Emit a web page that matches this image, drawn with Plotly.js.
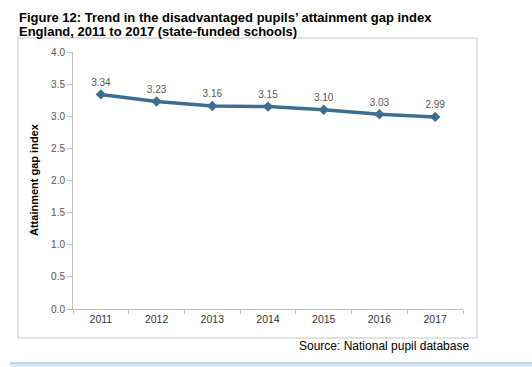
<!DOCTYPE html>
<html>
<head>
<meta charset="utf-8">
<script src="https://cdn.plot.ly/plotly-3.0.1.min.js"></script>
<style>html,body{margin:0;padding:0;background:#fff;}#chart{width:532px;height:367px;}</style>
</head>
<body>
<div id="chart"></div>
<script>
const years = ["2011", "2012", "2013", "2014", "2015", "2016", "2017"];
const gapIndex = [3.34, 3.23, 3.16, 3.15, 3.10, 3.03, 2.99];
const gapLabels = ["3.34", "3.23", "3.16", "3.15", "3.10", "3.03", "2.99"];
const yTicks = [0, 0.5, 1, 1.5, 2, 2.5, 3, 3.5, 4];
const yTickText = ["0.0", "0.5", "1.0", "1.5", "2.0", "2.5", "3.0", "3.5", "4.0"];
const titleLines = [
  "Figure 12: Trend in the disadvantaged pupils’ attainment gap index",
  "England, 2011 to 2017 (state-funded schools)"
];

const trace = {
  x: years, y: gapIndex, text: gapLabels,
  type: "scatter", mode: "lines+markers+text",
  textposition: "top center",
  textfont: {family: "Liberation Sans, Arial, sans-serif", size: 10, color: "#595959"},
  line: {color: "#3e6e8e", width: 3.5},
  marker: {symbol: "diamond", size: 8, color: "#3e6e8e"},
  cliponaxis: false, hoverinfo: "skip"
};

const L = 73, R = 463, T = 52, B = 309;
const px = v => (v - L) / (R - L);
const py = v => (B - v) / (B - T);

const layout = {
  width: 532, height: 367,
  margin: {l: L, r: 532 - R, t: T, b: 367 - B, pad: 0},
  paper_bgcolor: "#ffffff", plot_bgcolor: "#ffffff",
  showlegend: false,
  font: {family: "Liberation Sans, Arial, sans-serif", color: "#333"},
  xaxis: {
    type: "category", range: [-0.5, 6.5],
    showline: true, linecolor: "#bfbfbf", linewidth: 1,
    ticks: "outside", tickson: "boundaries", ticklen: 4, tickcolor: "#bfbfbf",
    showgrid: false, zeroline: false,
    tickfont: {size: 10.5, color: "#333"}
  },
  yaxis: {
    range: [0, 4], tickvals: yTicks, ticktext: yTickText,
    showline: true, linecolor: "#bfbfbf", linewidth: 1,
    ticks: "outside", ticklen: 5, tickcolor: "#bfbfbf",
    showgrid: false, zeroline: false,
    tickfont: {size: 10, color: "#555"}
  },
  annotations: [
    {text: "<b>" + titleLines[0] + "</b>",
     xref: "paper", yref: "paper", x: px(17), y: py(17), showarrow: false,
     xanchor: "left", yanchor: "middle", align: "left",
     font: {size: 13, color: "#000"}},
    {text: "<b>" + titleLines[1] + "</b>",
     xref: "paper", yref: "paper", x: px(17), y: py(31), showarrow: false,
     xanchor: "left", yanchor: "middle", align: "left",
     font: {size: 13, color: "#000"}},
    {text: "<b>Attainment gap index</b>", xref: "paper", yref: "paper",
     x: px(34), y: py(180), textangle: -90, showarrow: false,
     xanchor: "center", yanchor: "middle",
     font: {size: 11, color: "#000"}},
    {text: "Source: National pupil database", xref: "paper", yref: "paper",
     x: px(471), y: py(346), showarrow: false, xanchor: "right", yanchor: "middle",
     font: {size: 12, color: "#000"}}
  ],
  shapes: [
    {type: "rect", xref: "paper", yref: "paper",
     x0: px(18), x1: px(477), y0: py(338), y1: py(38),
     line: {color: "#d9d9d9", width: 1.5}, fillcolor: "rgba(0,0,0,0)", layer: "below"},
    {type: "rect", xref: "paper", yref: "paper",
     x0: px(10), x1: px(545), y0: py(363), y1: py(380),
     line: {width: 0}, fillcolor: "#deebf7", layer: "below"},
    {type: "line", xref: "paper", yref: "paper",
     x0: px(10), x1: px(545), y0: py(363), y1: py(363),
     line: {color: "#8fb4d8", width: 1}}
  ]
};

Plotly.newPlot("chart", [trace], layout, {staticPlot: true, displayModeBar: false});
</script>
</body>
</html>
